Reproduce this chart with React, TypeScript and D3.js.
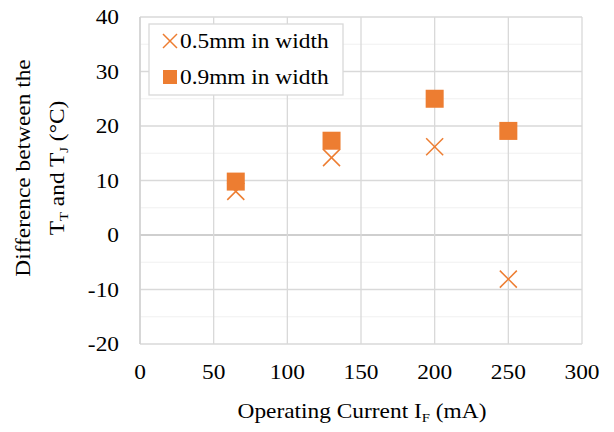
import React from "react";
import { scaleLinear, range } from "d3";

const currents = [65, 130, 200, 250];
const width05 = [8, 14.2, 16.2, -8.1];
const width09 = [9.8, 17.3, 25, 19.1];
const seriesNames = ["0.5mm in width", "0.9mm in width"];

const orange = "#ED7D31";
const font = "Times New Roman, Liberation Serif, DejaVu Serif, serif";
const fs = 20.5;
const sx = 1.14; // reference text is a little wider than Liberation Serif

// text stretched horizontally around its anchor
const Txt = ({ x, y, anchor = "start", dy = "0", children }: any) => (
  <g transform={`translate(${x},${y}) scale(${sx},1)`}>
    <text x={0} y={0} dy={dy} textAnchor={anchor} fontSize={fs} fontFamily={font} fill="#000">
      {children}
    </text>
  </g>
);

export default function App() {
  const width = 614;
  const height = 432;
  const margin = { top: 17, right: 32, bottom: 88, left: 140 };
  const innerWidth = width - margin.left - margin.right;
  const innerHeight = height - margin.top - margin.bottom;

  const xScale = scaleLinear().domain([0, 300]).range([0, innerWidth]);
  const yScale = scaleLinear().domain([-20, 40]).range([innerHeight, 0]);

  const xTicks = range(0, 301, 50);
  const yTicks = range(-20, 41, 10);
  const yMinor = range(-15, 40, 10);

  const cross = (x: number, y: number, key: number, s = 8.5) => (
    <g key={key} stroke={orange} strokeWidth={1.5}>
      <line x1={x - s} y1={y - s} x2={x + s} y2={y + s} />
      <line x1={x - s} y1={y + s} x2={x + s} y2={y - s} />
    </g>
  );
  const square = (x: number, y: number, key: number, s = 9) => (
    <rect key={key} x={x - s} y={y - s} width={2 * s} height={2 * s} fill={orange} />
  );

  return (
    <svg
      width={width}
      height={height}
      fontFamily={font}
      style={{ position: "absolute", left: 0, top: 0 }}
    >
      <rect width={width} height={height} fill="white" />
      <g transform={`translate(${margin.left},${margin.top})`}>
        {yMinor.map((t) => (
          <line key={t} x1={0} x2={innerWidth} y1={yScale(t)} y2={yScale(t)} stroke="#f0f0f0" strokeWidth={1.2} />
        ))}
        {yTicks.map((t) => (
          <line key={t} x1={0} x2={innerWidth} y1={yScale(t)} y2={yScale(t)}
            stroke={t === 0 ? "#bfbfbf" : "#d9d9d9"} strokeWidth={1.3} />
        ))}
        {xTicks.map((t) => (
          <line key={t} x1={xScale(t)} x2={xScale(t)} y1={0} y2={innerHeight} stroke="#d9d9d9" strokeWidth={1.3} />
        ))}
        <line x1={0} x2={0} y1={0} y2={innerHeight} stroke="#cfcfcf" strokeWidth={1.3} />
        {yTicks.map((t) => (
          <Txt key={t} x={-21} y={yScale(t)} dy="0.35em" anchor="end">{t}</Txt>
        ))}
        {xTicks.map((t) => (
          <Txt key={t} x={xScale(t)} y={innerHeight + 35} anchor="middle">{t}</Txt>
        ))}
        {currents.map((c, i) => cross(xScale(c), yScale(width05[i]), i))}
        {currents.map((c, i) => square(xScale(c), yScale(width09[i]), i))}

        <g transform="translate(9,7)">
          <rect width={194} height={71} fill="white" stroke="#d9d9d9" strokeWidth={1.3} />
          {cross(21, 17, 0, 7)}
          {square(21, 53, 1, 7)}
          <Txt x={31} y={17} dy="0.35em">{seriesNames[0]}</Txt>
          <Txt x={31} y={53} dy="0.35em">{seriesNames[1]}</Txt>
        </g>
      </g>

      <g transform="translate(0,168) rotate(-90)">
        <Txt x={0} y={30} anchor="middle">Difference between the</Txt>
        <Txt x={0} y={64} anchor="middle">
          T<tspan fontSize={13} dy={4}>T</tspan>
          <tspan dy={-4}> and T</tspan>
          <tspan fontSize={13} dy={4}>J</tspan>
          <tspan dy={-4}> (°C)</tspan>
        </Txt>
      </g>
      <Txt x={362} y={418} anchor="middle">
        Operating Current I<tspan fontSize={13} dy={4}>F</tspan>
        <tspan dy={-4}> (mA)</tspan>
      </Txt>
    </svg>
  );
}
